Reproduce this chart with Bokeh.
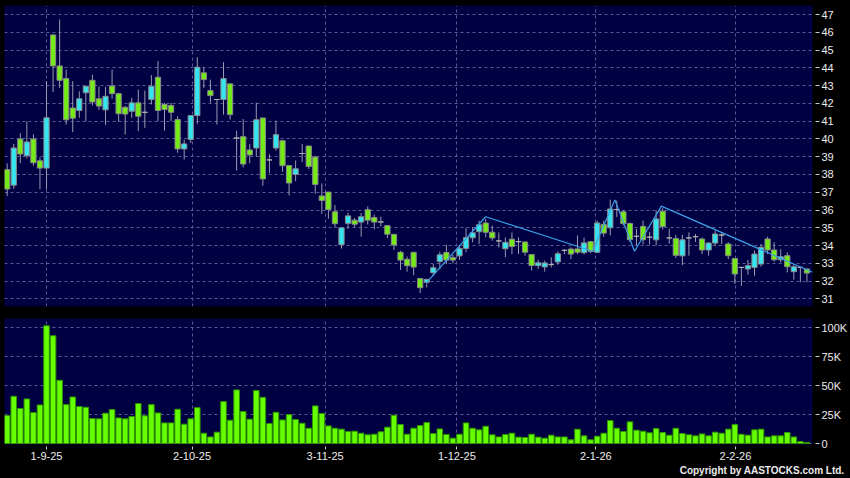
from bokeh.plotting import figure
from bokeh.layouts import column
from bokeh.models import Range1d, FixedTicker, Title, ColumnDataSource
from bokeh.embed import file_html
from bokeh.resources import INLINE

# ---------------- data ----------------
opens = [38.27, 37.4, 40.0, 39.06, 40.0, 38.77, 38.36, 45.85, 44.11, 43.4,
         41.74, 41.6, 42.6, 43.3, 42.26, 41.64, 42.98, 42.55, 41.78, 41.56,
         42.03, 41.5, 42.22, 43.47, 41.94, 41.88, 41.09, 39.44, 39.97, 41.32,
         43.72, 42.72, 42.22, 42.22, 43.1, 40.05, 40.13, 39.38, 39.49, 41.18,
         38.82, 39.49, 39.9, 38.5, 38.0, 39.18, 39.6, 38.98, 36.79, 37.01,
         35.9, 34.05, 35.25, 35.43, 35.32, 36.02, 35.58, 35.33, 35.12, 34.63,
         33.62, 33.23, 33.62, 32.14, 31.93, 32.47, 33.1, 33.61, 33.32, 33.42,
         33.84, 34.44, 34.78, 35.27, 34.75, 34.26, 33.82, 34.36, 34.22, 34.2,
         33.49, 32.87, 32.8, 32.93, 33.08, 33.73, 33.8, 33.81, 33.6, 34.22,
         33.62, 35.19, 35.0, 36.03, 35.9, 35.24, 34.52, 35.08, 34.47, 34.32,
         35.93, 34.43, 34.4, 33.42, 34.43, 34.5, 34.37, 33.75, 34.14, 34.59,
         34.09, 33.27, 32.77, 32.68, 32.77, 32.96, 34.37, 33.75, 33.2, 33.43,
         32.53, 32.77, 32.68]
highs = [38.62, 39.72, 40.32, 40.98, 40.26, 38.96, 43.25, 45.9, 46.72, 43.9,
         43.25, 42.68, 43.0, 43.62, 42.96, 42.92, 43.9, 42.6, 41.85, 42.31,
         42.78, 42.72, 43.59, 44.38, 42.03, 42.03, 41.28, 39.97, 41.32, 44.6,
         44.04, 43.34, 42.22, 44.32, 43.1, 40.46, 41.12, 39.72, 42.05, 41.18,
         39.15, 41.03, 39.95, 38.52, 38.78, 39.72, 39.62, 39.06, 37.5, 37.02,
         36.28, 35.0, 35.85, 35.55, 35.83, 36.2, 35.74, 35.62, 35.12, 34.64,
         33.7, 33.38, 33.64, 32.15, 32.12, 32.96, 33.66, 34.04, 33.47, 34.04,
         34.98, 35.02, 35.4, 35.49, 35.12, 34.74, 34.46, 34.74, 34.46, 34.22,
         33.5, 33.2, 33.15, 33.34, 33.67, 33.8, 33.9, 34.56, 34.45, 34.25,
         35.4, 35.41, 36.58, 36.53, 36.0, 35.3, 34.94, 35.41, 34.76, 35.97,
         36.1, 34.95, 34.6, 34.6, 34.74, 34.65, 34.45, 34.2, 34.84, 34.74,
         34.18, 33.3, 32.8, 33.19, 33.71, 34.09, 34.5, 34.18, 33.8, 33.62,
         32.96, 32.8, 32.7]
lows = [36.79, 37.2, 38.64, 38.9, 38.49, 37.17, 37.17, 42.64, 42.87, 40.81,
        40.38, 41.19, 41.0, 41.89, 41.64, 40.79, 42.26, 40.98, 40.25, 41.19,
        40.44, 40.62, 41.94, 41.0, 40.47, 41.0, 39.22, 38.84, 39.78, 40.85,
        42.87, 42.03, 40.81, 41.37, 41.09, 38.22, 38.4, 38.63, 39.0, 37.37,
        38.07, 39.34, 38.16, 36.82, 37.62, 38.7, 38.31, 36.92, 35.79, 35.51,
        35.04, 33.83, 34.95, 35.03, 34.5, 35.18, 34.92, 35.08, 34.42, 33.75,
        32.63, 32.53, 32.33, 31.33, 31.64, 32.28, 32.66, 32.96, 33.0, 33.19,
        33.62, 34.18, 34.09, 34.46, 34.27, 33.9, 33.35, 33.52, 33.52, 33.43,
        32.59, 32.68, 32.53, 32.77, 32.92, 33.52, 33.24, 33.52, 33.5, 33.56,
        33.58, 34.5, 34.57, 35.6, 35.13, 34.2, 34.02, 34.06, 34.06, 34.0,
        34.9, 34.1, 33.3, 32.9, 33.43, 34.2, 33.52, 33.43, 33.99, 34.09,
        33.24, 31.84, 31.74, 32.36, 32.3, 32.81, 33.52, 33.09, 33.05, 32.49,
        32.08, 31.93, 31.93]
closes = [37.18, 39.49, 39.15, 39.83, 38.66, 38.36, 41.19, 44.11, 43.3, 41.08,
          41.17, 42.26, 42.96, 42.08, 41.85, 42.4, 42.55, 41.42, 41.4, 42.03,
          41.28, 41.5, 42.97, 41.6, 41.65, 41.5, 39.44, 39.72, 41.32, 44.04,
          43.34, 42.44, 42.22, 43.4, 41.37, 40.05, 38.59, 39.1, 41.08, 37.75,
          38.82, 40.24, 38.5, 37.52, 38.32, 39.18, 38.45, 37.44, 36.54, 36.03,
          35.23, 35.0, 35.67, 35.2, 35.62, 35.43, 35.32, 35.33, 34.64, 34.03,
          33.18, 32.87, 32.79, 31.63, 32.1, 32.75, 33.48, 33.18, 33.18, 33.84,
          34.45, 34.72, 35.17, 34.75, 34.43, 34.26, 34.18, 33.95, 34.22, 33.63,
          32.88, 33.03, 33.02, 32.93, 33.54, 33.73, 33.52, 33.63, 34.15, 33.67,
          35.27, 34.7, 36.06, 36.03, 35.24, 34.33, 34.52, 34.33, 34.47, 35.5,
          35.07, 34.43, 33.45, 34.32, 34.43, 34.5, 33.75, 34.14, 34.65, 34.59,
          33.43, 32.4, 32.77, 32.87, 33.52, 33.9, 33.75, 33.2, 33.37, 32.81,
          32.81, 32.77, 32.45]
volumes = [24100, 40800, 30200, 38500, 26700, 33300, 101700, 93100, 54600, 33600,
           40200, 31900, 31300, 21600, 21300, 26200, 29300, 22100, 21300, 23300,
           34500, 23900, 33600, 26400, 17800, 17800, 29600, 16700, 21300, 31000,
           8900, 5700, 9800, 36200, 20100, 46300, 27600, 21000, 45700, 39900,
           17200, 27000, 20400, 25000, 20700, 17500, 13200, 32500, 25900, 15200,
           13200, 12400, 10300, 10600, 8900, 7500, 8000, 10100, 14100, 24400,
           16400, 8000, 13200, 15500, 18100, 8600, 12600, 7800, 4600, 8000,
           17800, 13200, 11800, 14900, 7500, 5700, 7800, 8900, 5500, 5200,
           8000, 5500, 4600, 7200, 5700, 5700, 3200, 12400, 6600, 3200,
           6300, 8900, 19800, 13200, 10300, 18700, 11500, 10600, 9200, 12900,
           9500, 7200, 13200, 8600, 7500, 6600, 8300, 6600, 9800, 8900,
           12400, 16400, 8000, 7200, 11800, 12400, 5700, 6600, 6600, 9500,
           5700, 1700, 900]

# zig-zag trend line (index position, price)
zz_x = [64.0, 73.0, 89.3, 92.7, 95.7, 99.8, 122.85]
zz_y = [31.93, 35.62, 33.68, 36.57, 33.68, 36.22, 32.5]

# date axis
xtick_pos = [6, 28.2, 48.5, 68.6, 89.8, 111.1]
xtick_labels = ["1-9-25", "2-10-25", "3-11-25", "1-12-25", "2-1-26", "2-2-26"]
price_ticks = list(range(31, 48))
vol_ticks = [0, 25000, 50000, 75000, 100000]
vol_tick_labels = ["0", "25K", "50K", "75K", "100K"]

# ---------------- styling ----------------
NAVY = "#000042"
GRID = "#5a5a92"
UP = "#36e4f0"
DOWN = "#74ea16"
FLAT = "#b0b0b0"
TXT = "#ececec"
FONT = "Liberation Sans"

idx = list(range(len(opens)))
body_top = [max(o, c) for o, c in zip(opens, closes)]
body_bot = [min(o, c) for o, c in zip(opens, closes)]
fills = [UP if c > o else (DOWN if c < o else FLAT) for o, c in zip(opens, closes)]
edges = ["#8a8a8a" if c != o else FLAT for o, c in zip(opens, closes)]
src = ColumnDataSource(dict(x=idx, o=opens, h=highs, l=lows, c=closes,
                            top=body_top, bot=body_bot, fill=fills, edge=edges,
                            v=volumes))

W = 850
xr = Range1d(-0.41, 122.85)

p = figure(width=W, height=312, x_range=xr, y_range=Range1d(30.57, 47.51),
           x_axis_location=None, y_axis_location="right",
           output_backend="svg", toolbar_location=None,
           min_border_left=4, min_border_right=37, min_border_top=5, min_border_bottom=6,
           background_fill_color=NAVY, border_fill_color="black", outline_line_color=None)

p.segment(x0="x", y0="h", x1="x", y1="l", source=src, line_color="#9a9ab4", line_width=1)
p.vbar(x="x", width=0.8, top="top", bottom="bot", source=src,
       fill_color="fill", line_color="edge", line_width=1)
p.line(zz_x, zz_y, line_color="#3b9fe6", line_width=1.2)

v = figure(width=W, height=166, x_range=xr, y_range=Range1d(-860, 108000),
           y_axis_location="right",
           output_backend="svg", toolbar_location=None,
           min_border_left=4, min_border_right=37, min_border_top=6, min_border_bottom=34,
           background_fill_color=NAVY, border_fill_color="black", outline_line_color=None)
v.vbar(x="x", width=0.85, top="v", bottom=0, source=src,
       fill_color="#66ff00", line_color="#2f9400", line_width=1)

# axes
p.yaxis.ticker = FixedTicker(ticks=price_ticks)
v.yaxis.ticker = FixedTicker(ticks=vol_ticks)
v.yaxis.major_label_overrides = {t: l for t, l in zip(vol_ticks, vol_tick_labels)}
v.xaxis.ticker = FixedTicker(ticks=xtick_pos)
v.xaxis.major_label_overrides = {t: l for t, l in zip(xtick_pos, xtick_labels)}

for ax in [p.yaxis[0], v.yaxis[0]]:
    ax.major_tick_in = -3
    ax.major_tick_out = 7
    ax.major_label_standoff = 2
v.xaxis.major_tick_in = -2
v.xaxis.major_tick_out = 5
v.xaxis.major_label_standoff = 2

for ax in [p.yaxis[0], v.yaxis[0], v.xaxis[0]]:
    ax.axis_line_color = None
    ax.major_tick_line_color = "#cccccc"
    ax.minor_tick_line_color = None
    ax.major_label_text_color = TXT
    ax.major_label_text_font = FONT
    ax.major_label_text_font_size = "11px"

# grids
for fig in (p, v):
    fig.xgrid.ticker = FixedTicker(ticks=xtick_pos)
    for g in (fig.xgrid[0], fig.ygrid[0]):
        g.grid_line_color = GRID
        g.grid_line_dash = "3 3"
        g.grid_line_width = 1
p.ygrid.ticker = FixedTicker(ticks=price_ticks)
v.ygrid.ticker = FixedTicker(ticks=vol_ticks)

v.add_layout(Title(text="Copyright by AASTOCKS.com Ltd.", align="right", offset=-32,
                   standoff=0, text_font=FONT, text_font_style="bold",
                   text_font_size="10px", text_color=TXT), "below")

layout = column(p, v, spacing=0)
layout.styles = {"background-color": "black"}

open("out.html", "w").write(file_html(layout, INLINE))
